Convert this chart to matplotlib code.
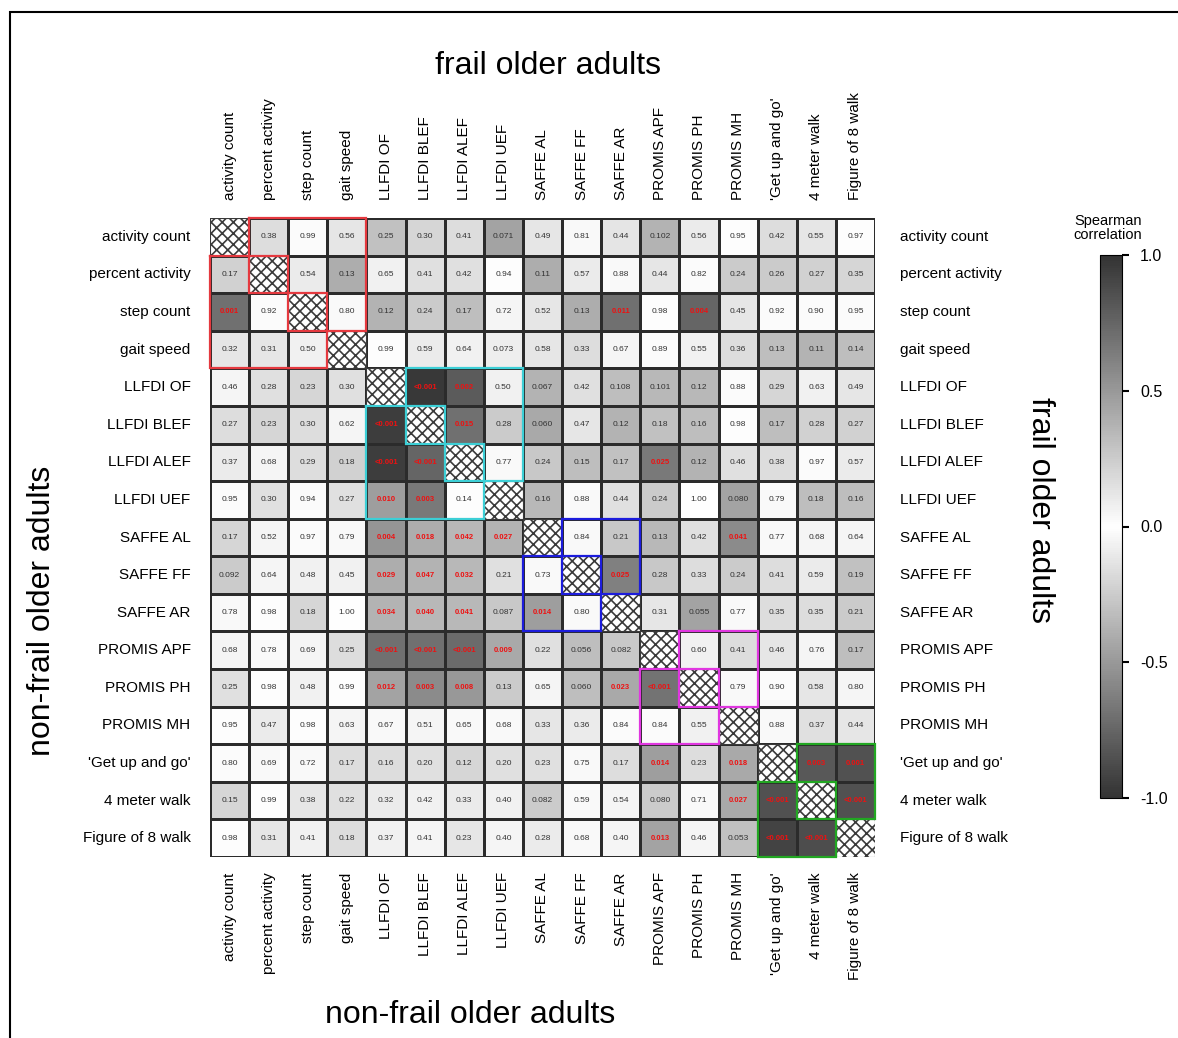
import numpy as np
import matplotlib
matplotlib.use('Agg')
import matplotlib.pyplot as plt
from matplotlib.colors import LinearSegmentedColormap, Normalize
from matplotlib.cm import ScalarMappable
from matplotlib.patches import Rectangle

plt.rcParams['font.family'] = ['Liberation Sans', 'DejaVu Sans']
plt.rcParams['hatch.linewidth'] = 1.2

# ----------------------
# data: upper triangle = frail, lower triangle = non-frail
# ----------------------
labels = ["activity count", "percent activity", "step count", "gait speed",
          "LLFDI OF", "LLFDI BLEF", "LLFDI ALEF", "LLFDI UEF",
          "SAFFE AL", "SAFFE FF", "SAFFE AR",
          "PROMIS APF", "PROMIS PH", "PROMIS MH",
          "'Get up and go'", "4 meter walk", "Figure of 8 walk"]

# p-values printed in the cells
p_text = [
    ["", "0.38", "0.99", "0.56", "0.25", "0.30", "0.41", "0.071", "0.49", "0.81", "0.44", "0.102", "0.56", "0.95", "0.42", "0.55", "0.97"],
    ["0.17", "", "0.54", "0.13", "0.65", "0.41", "0.42", "0.94", "0.11", "0.57", "0.88", "0.44", "0.82", "0.24", "0.26", "0.27", "0.35"],
    ["0.001", "0.92", "", "0.80", "0.12", "0.24", "0.17", "0.72", "0.52", "0.13", "0.011", "0.98", "0.004", "0.45", "0.92", "0.90", "0.95"],
    ["0.32", "0.31", "0.50", "", "0.99", "0.59", "0.64", "0.073", "0.58", "0.33", "0.67", "0.89", "0.55", "0.36", "0.13", "0.11", "0.14"],
    ["0.46", "0.28", "0.23", "0.30", "", "<0.001", "0.002", "0.50", "0.067", "0.42", "0.108", "0.101", "0.12", "0.88", "0.29", "0.63", "0.49"],
    ["0.27", "0.23", "0.30", "0.62", "<0.001", "", "0.015", "0.28", "0.060", "0.47", "0.12", "0.18", "0.16", "0.98", "0.17", "0.28", "0.27"],
    ["0.37", "0.68", "0.29", "0.18", "<0.001", "<0.001", "", "0.77", "0.24", "0.15", "0.17", "0.025", "0.12", "0.46", "0.38", "0.97", "0.57"],
    ["0.95", "0.30", "0.94", "0.27", "0.010", "0.003", "0.14", "", "0.16", "0.88", "0.44", "0.24", "1.00", "0.080", "0.79", "0.18", "0.16"],
    ["0.17", "0.52", "0.97", "0.79", "0.004", "0.018", "0.042", "0.027", "", "0.84", "0.21", "0.13", "0.42", "0.041", "0.77", "0.68", "0.64"],
    ["0.092", "0.64", "0.48", "0.45", "0.029", "0.047", "0.032", "0.21", "0.73", "", "0.025", "0.28", "0.33", "0.24", "0.41", "0.59", "0.19"],
    ["0.78", "0.98", "0.18", "1.00", "0.034", "0.040", "0.041", "0.087", "0.014", "0.80", "", "0.31", "0.055", "0.77", "0.35", "0.35", "0.21"],
    ["0.68", "0.78", "0.69", "0.25", "<0.001", "<0.001", "<0.001", "0.009", "0.22", "0.056", "0.082", "", "0.60", "0.41", "0.46", "0.76", "0.17"],
    ["0.25", "0.98", "0.48", "0.99", "0.012", "0.003", "0.008", "0.13", "0.65", "0.060", "0.023", "<0.001", "", "0.79", "0.90", "0.58", "0.80"],
    ["0.95", "0.47", "0.98", "0.63", "0.67", "0.51", "0.65", "0.68", "0.33", "0.36", "0.84", "0.84", "0.55", "", "0.88", "0.37", "0.44"],
    ["0.80", "0.69", "0.72", "0.17", "0.16", "0.20", "0.12", "0.20", "0.23", "0.75", "0.17", "0.014", "0.23", "0.018", "", "0.003", "0.001"],
    ["0.15", "0.99", "0.38", "0.22", "0.32", "0.42", "0.33", "0.40", "0.082", "0.59", "0.54", "0.080", "0.71", "0.027", "<0.001", "", "<0.001"],
    ["0.98", "0.31", "0.41", "0.18", "0.37", "0.41", "0.23", "0.40", "0.28", "0.68", "0.40", "0.013", "0.46", "0.053", "<0.001", "<0.001", ""],
]

# Spearman rho (read from the cell shading)
nan = np.nan
rho = np.array([
    [nan, .17, .02, .12, .30, .20, .17, .45, .12, .03, .13, .37, .10, .01, .17, .12, .01],
    [.22, nan, .10, .40, .07, .15, .15, .01, .40, .10, .03, .12, .02, .25, .25, .22, .20],
    [.70, .02, nan, .03, .37, .25, .32, .05, .12, .40, .70, .01, .75, .12, .02, .02, .02],
    [.12, .12, .07, nan, .01, .10, .07, .08, .12, .17, .05, .02, .07, .17, .32, .37, .32],
    [.05, .15, .20, .15, nan, .97, .80, .07, .37, .15, .32, .35, .35, .02, .20, .07, .12],
    [.17, .20, .17, .05, .95, nan, .70, .25, .42, .12, .37, .30, .32, .01, .32, .22, .22],
    [.10, .05, .17, .22, .95, .75, nan, .03, .27, .32, .30, .65, .37, .15, .17, .02, .10],
    [.02, .15, .02, .15, .47, .65, .01, nan, .35, .03, .15, .25, .00, .45, .03, .32, .32],
    [.20, .05, .02, .03, .52, .40, .35, .37, nan, .03, .27, .35, .15, .57, .03, .05, .05],
    [.25, .05, .07, .07, .40, .37, .35, .15, .03, nan, .62, .27, .17, .25, .17, .10, .30],
    [.03, .01, .20, .00, .37, .35, .35, .27, .47, .03, nan, .12, .45, .03, .17, .17, .25],
    [.05, .03, .05, .17, .70, .70, .72, .42, .15, .32, .27, nan, .07, .17, .12, .05, .32],
    [.15, .01, .07, .01, .45, .57, .50, .25, .05, .32, .42, .68, nan, .03, .02, .12, .05],
    [.01, .10, .01, .05, .03, .05, .03, .03, .12, .10, .02, .02, .07, nan, .03, .15, .12],
    [.02, .03, .03, .17, .17, .15, .20, .15, .15, .03, .17, .47, .17, .42, nan, .82, .85],
    [.20, .01, .12, .15, .10, .07, .10, .07, .25, .03, .05, .25, .03, .42, .85, nan, .85],
    [.01, .12, .07, .17, .07, .05, .12, .05, .10, .03, .05, .45, .05, .30, .92, .87, nan],
])

# measurement groups (start, end, outline colour)
groups = [(0, 4, '#e5393f'), (4, 8, '#3ccfd6'), (8, 11, '#1c1cdc'),
          (11, 14, '#e036e0'), (14, 17, '#22a722')]

n = len(labels)
W, H = 1178, 1038

fig = plt.figure(figsize=(W / 100, H / 100), dpi=100)
ax = fig.add_axes([210 / W, 1 - 857 / H, 665 / W, 639 / H])

cmap = LinearSegmentedColormap.from_list('dwd', ['#333333', '#ffffff', '#333333'])
ax.pcolormesh(np.arange(n + 1), np.arange(n + 1), np.ma.masked_invalid(rho),
              cmap=cmap, vmin=-1, vmax=1, edgecolors='#2b2b2b', linewidth=0.8)

# diagonal cells: cross-hatched
for i in range(n):
    ax.add_patch(Rectangle((i, i), 1, 1, facecolor='white', edgecolor='#3a3a3a',
                           hatch='xxx', lw=0.8))

ax.set_xlim(0, n)
ax.set_ylim(n, 0)
ax.axis('off')

# p-values
for i in range(n):
    for j in range(n):
        s = p_text[i][j]
        if not s:
            continue
        sig = s.startswith('<') or float(s) < 0.05
        ax.text(j + 0.5, i + 0.5, s, ha='center', va='center',
                fontsize=5.5 if sig else 6,
                color='#ee1111' if sig else '#333333',
                fontweight='bold' if sig else 'normal')

# group outlines (staircase upper + lower)
for a, b, c in groups:
    pts = [(a + 1, a), (b, a), (b, b - 1)]
    for k in range(b - 1, a, -1):
        pts += [(k, k), (k, k - 1)]
    xs, ys = zip(*pts)
    ax.plot(xs, ys, color=c, lw=1.6, clip_on=False, solid_joinstyle='miter')
    ax.plot(ys, xs, color=c, lw=1.6, clip_on=False, solid_joinstyle='miter')

# row / column labels
for k, lab in enumerate(labels):
    ax.annotate(lab, xy=(0, k + 0.5), xycoords=('axes fraction', 'data'),
                xytext=(-14, 0), textcoords='offset points',
                ha='right', va='center', fontsize=11)
    ax.annotate(lab, xy=(1, k + 0.5), xycoords=('axes fraction', 'data'),
                xytext=(18, 0), textcoords='offset points',
                ha='left', va='center', fontsize=11)
    ax.annotate(lab, xy=(k + 0.5, 1), xycoords=('data', 'axes fraction'),
                xytext=(0, 13), textcoords='offset points', rotation=90,
                ha='center', va='bottom', fontsize=11)
    ax.annotate(lab, xy=(k + 0.5, 0), xycoords=('data', 'axes fraction'),
                xytext=(0, -11), textcoords='offset points', rotation=90,
                ha='center', va='top', fontsize=11)

# group titles
fig.text(548 / W, 1 - 66 / H, 'frail older adults', ha='center', va='center', fontsize=23)
fig.text(470 / W, 1 - 1015 / H, 'non-frail older adults', ha='center', va='center', fontsize=23)
fig.text(42 / W, 1 - 611 / H, 'non-frail older adults', rotation=90,
         ha='center', va='center', fontsize=23)
fig.text(1040 / W, 1 - 510 / H, 'frail older adults', rotation=270,
         ha='center', va='center', fontsize=23)

# colour bar
cax = fig.add_axes([1100 / W, 1 - 798 / H, 22 / W, 543 / H])
sm = ScalarMappable(norm=Normalize(-1, 1), cmap=cmap)
cb = fig.colorbar(sm, cax=cax, ticks=[-1, -0.5, 0, 0.5, 1])
cb.ax.set_yticklabels(['-1.0', '-0.5', '0.0', '0.5', '1.0'])
cb.ax.tick_params(length=5, width=1.5, labelsize=11.5, pad=8)
cb.outline.set_linewidth(0.8)
fig.text(1108 / W, 1 - 228 / H, 'Spearman\ncorrelation', ha='center', va='center',
         fontsize=10.5, linespacing=0.95)

# frame round the panel
fig.add_artist(Rectangle((10 / W, -0.05), 1.1, 1 - 12 / H + 0.05, transform=fig.transFigure,
                         fill=False, edgecolor='black', lw=1.5))

fig.savefig('out.png', dpi=100)
